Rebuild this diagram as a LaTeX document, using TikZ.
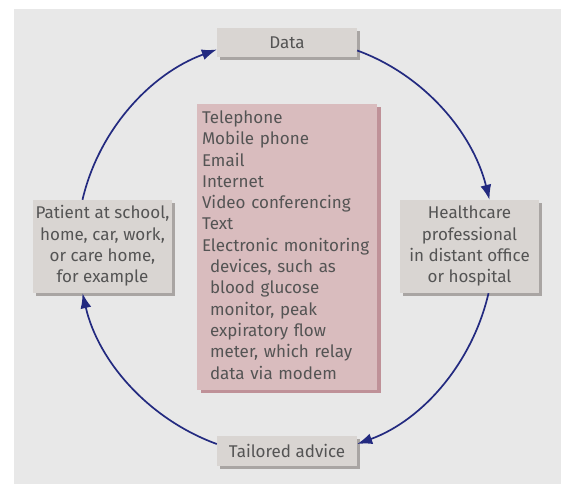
\documentclass[tikz,border=0pt]{standalone}
\usepackage{fontspec}
\setmainfont{Fira Sans}
\usepackage{tikz}
\usetikzlibrary{arrows.meta,shadows}

\definecolor{panelgray}{HTML}{E8E8E8}
\definecolor{boxgray}{HTML}{D9D5D2}
\definecolor{boxshade}{HTML}{A9A5A3}
\definecolor{mediapink}{HTML}{D9BCBE}
\definecolor{mediashade}{HTML}{BF9198}
\definecolor{textgray}{HTML}{545454}
\definecolor{arrowblue}{HTML}{232A80}

\begin{document}
\begin{tikzpicture}[x=1pt, y=1pt,
  font=\fontsize{17}{21.3}\selectfont,
  stage/.style={fill=boxgray, text=textgray, inner sep=0pt,
    general shadow={fill=boxshade, shadow xshift=3pt, shadow yshift=-3pt}},
  media/.style={fill=mediapink, text=textgray, inner sep=0pt,
    general shadow={fill=mediashade, shadow xshift=4pt, shadow yshift=-3pt}},
  loop arrow/.style={draw=arrowblue, line width=1.7pt, looseness=0.9,
    -{Latex[length=15pt, width=11pt]}}]
\useasboundingbox (0,0) rectangle (561,-484);
\fill[panelgray] (14,-9) rectangle (561,-484);

\node[stage, minimum width=140, minimum height=29] (data) at (287,-42.5) {Data};

\node[stage, minimum width=139, minimum height=93] (healthcare professional) at (469.5,-246.5) {\begin{tabular}{@{}c@{}}
Healthcare \\
professional \\
in distant office \\
or hospital
\end{tabular}};

\node[stage, minimum width=140, minimum height=30] (tailored advice) at (287,-451) {Tailored advice};

\node[stage, minimum width=139, minimum height=93] (patient) at (102.5,-246.5) {\begin{tabular}{@{}c@{}}
Patient at school, \\
home, car, work, \\
or care home, \\
for example
\end{tabular}};

\node[media, minimum width=180, minimum height=286, text width=170, align=left] (contact means) at (287,-247) {\begin{tabular}{@{}l@{}}
Telephone \\
Mobile phone \\
Email \\
Internet \\
Video conferencing \\
Text \\
Electronic monitoring \\
\hspace*{8pt}devices, such as \\
\hspace*{8pt}blood glucose \\
\hspace*{8pt}monitor, peak \\
\hspace*{8pt}expiratory flow \\
\hspace*{8pt}meter, which relay \\
\hspace*{8pt}data via modem
\end{tabular}};

% the care cycle, clockwise
\draw[loop arrow] ([yshift=-8]data.east) to[out=-20, in=104] ([xshift=20]healthcare professional.north);
\draw[loop arrow] ([xshift=19]healthcare professional.south) to[out=-103, in=20] ([yshift=7]tailored advice.east);
\draw[loop arrow] ([yshift=7]tailored advice.west) to[out=160, in=-77] ([xshift=-20]patient.south);
\draw[loop arrow] ([xshift=-20]patient.north) to[out=77, in=-160] ([yshift=-7]data.west);
\end{tikzpicture}
\end{document}
